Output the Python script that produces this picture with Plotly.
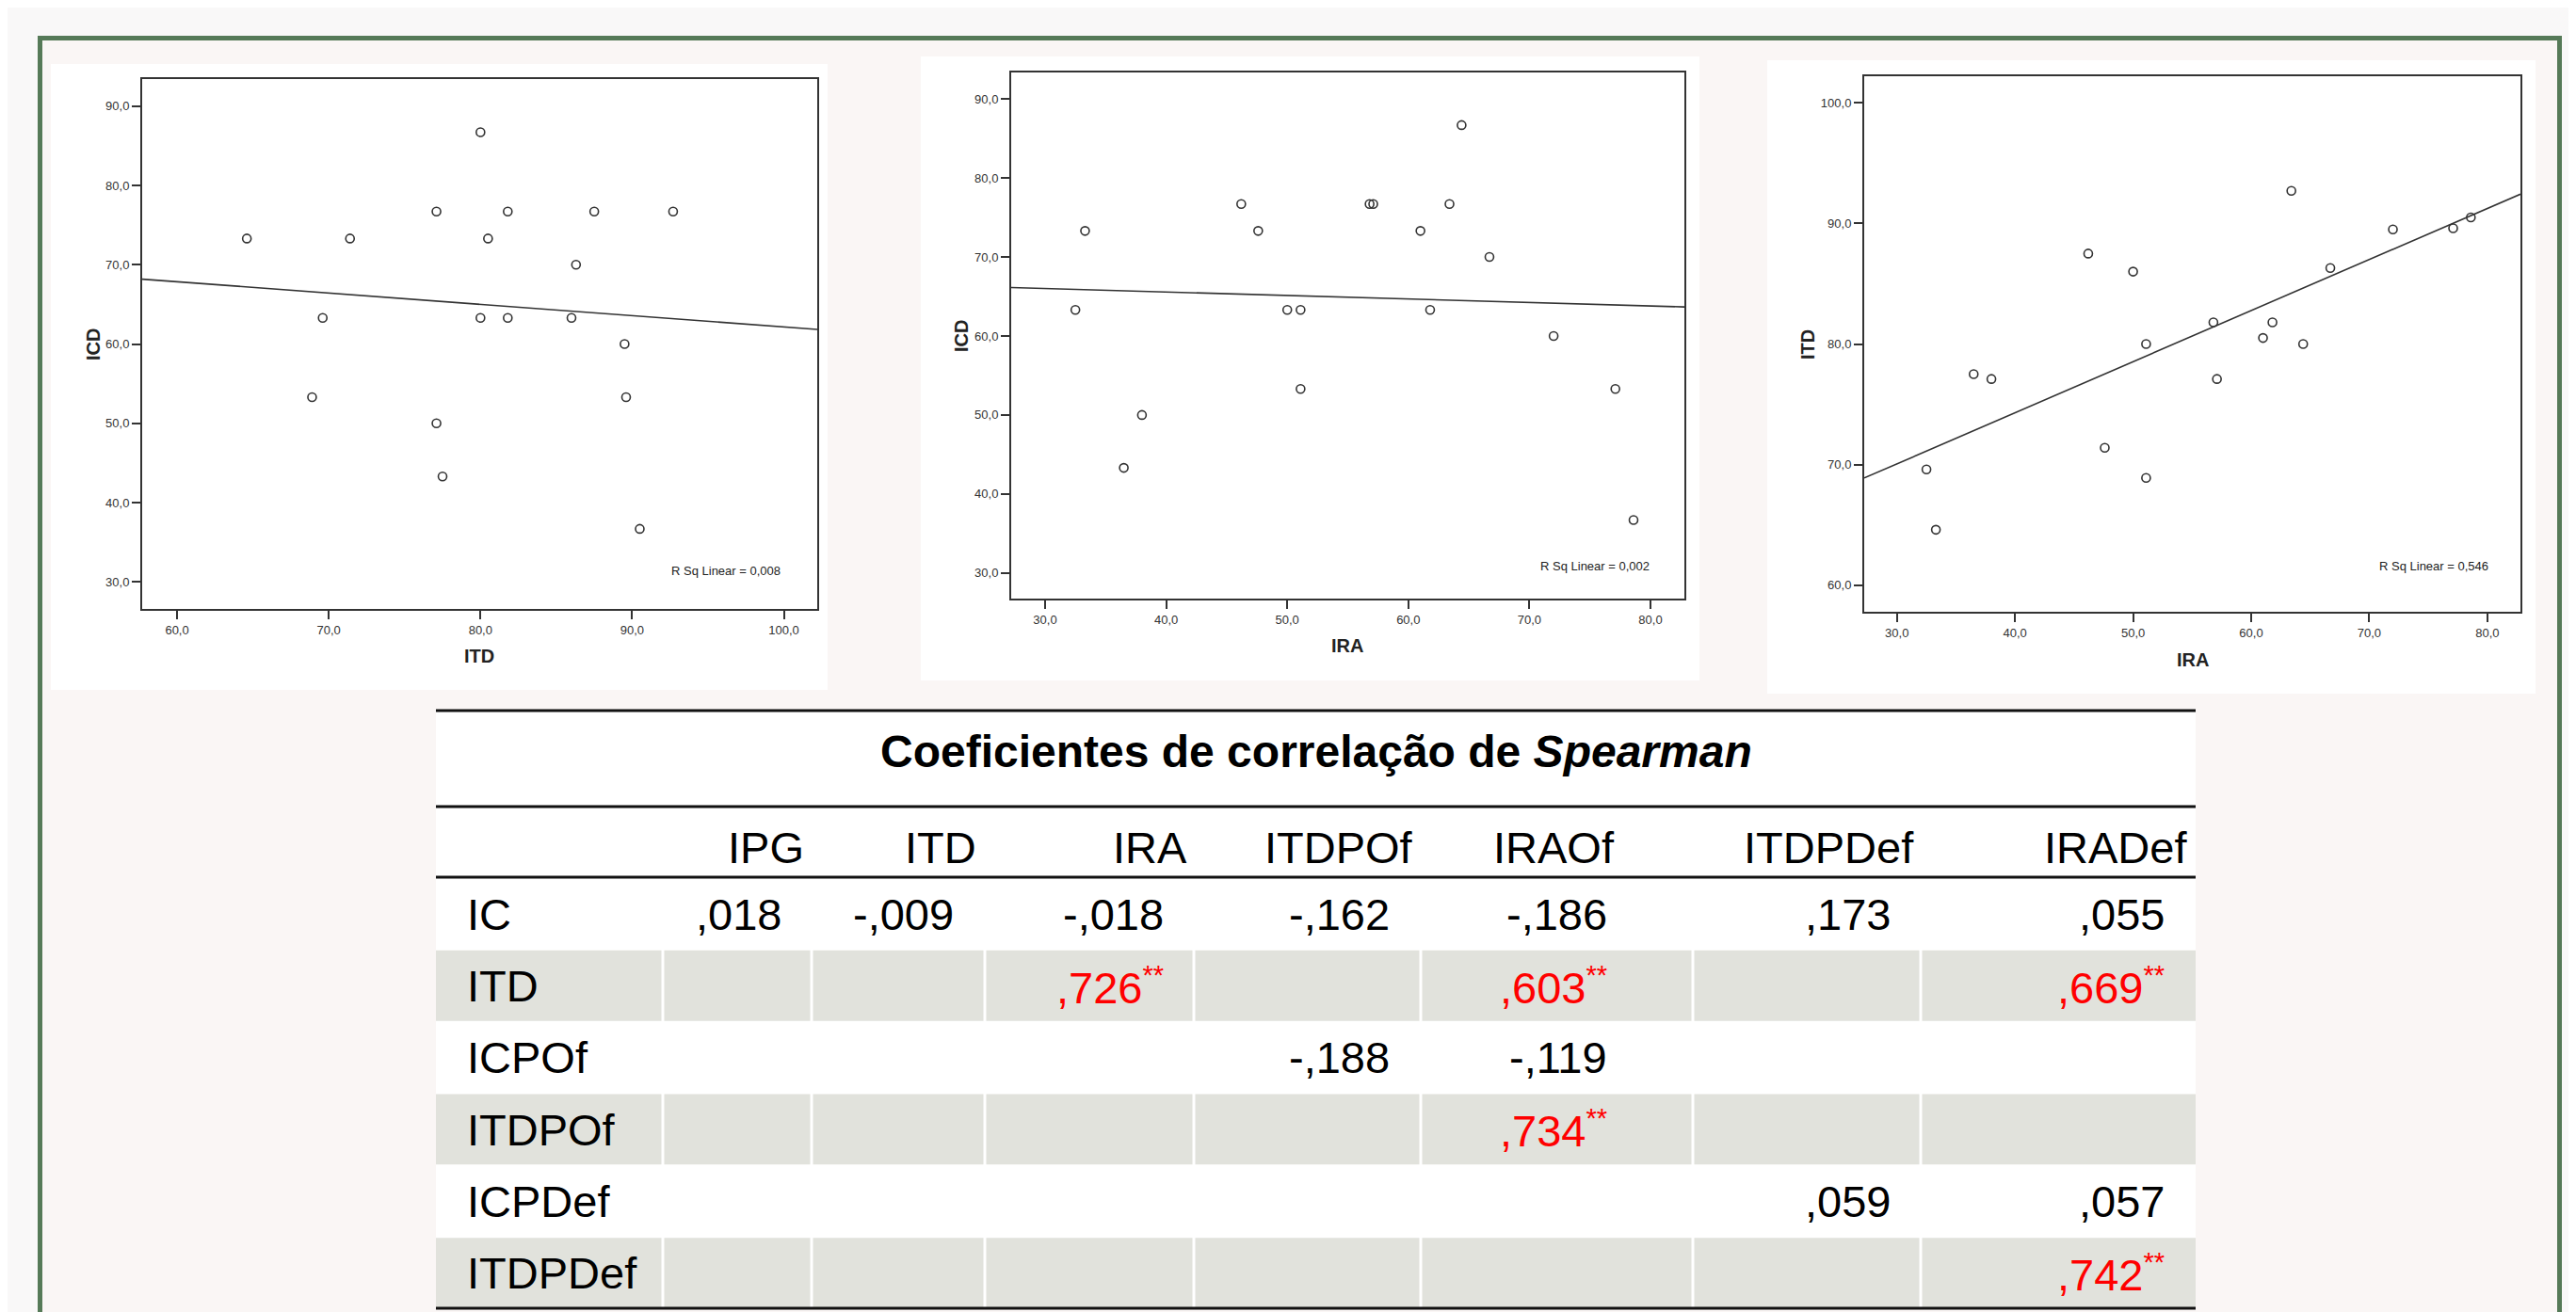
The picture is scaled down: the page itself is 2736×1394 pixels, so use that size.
import numpy as np
import plotly.graph_objects as go

# ---------------- data ----------------
IRA = [32.5, 33.3, 36.5, 38.0, 46.2, 47.6, 50.0, 51.1, 51.1, 56.8, 57.1, 61.0, 61.8, 63.4, 64.4, 66.7, 72.0, 77.1, 78.6]
ICD = [63.3, 73.3, 43.3, 50.0, 76.7, 73.3, 63.3, 63.3, 53.3, 76.7, 76.7, 73.3, 63.3, 76.7, 86.7, 70.0, 60.0, 53.3, 36.7]
ITD = [69.6, 64.6, 77.5, 77.1, 87.5, 71.4, 86.0, 80.0, 68.9, 81.8, 77.1, 80.5, 81.8, 92.7, 80.0, 86.3, 89.5, 89.6, 90.5]

RSQ_LABELS = ["R Sq Linear = 0,008", "R Sq Linear = 0,002", "R Sq Linear = 0,546"]

TABLE_TITLE = "Coeficientes de correlação de <i>Spearman</i>"
COL_LABELS = ["IPG", "ITD", "IRA", "ITDPOf", "IRAOf", "ITDPDef", "IRADef"]
ROW_LABELS = ["IC", "ITD", "ICPOf", "ITDPOf", "ICPDef", "ITDPDef"]
VALUES = [
    [0.018, -0.009, -0.018, -0.162, -0.186, 0.173, 0.055],
    [None, None, 0.726, None, 0.603, None, 0.669],
    [None, None, None, -0.188, -0.119, None, None],
    [None, None, None, None, 0.734, None, None],
    [None, None, None, None, None, 0.059, 0.057],
    [None, None, None, None, None, None, 0.742],
]
SIGNIF = [
    [0, 0, 0, 0, 0, 0, 0],
    [0, 0, 1, 0, 1, 0, 1],
    [0, 0, 0, 0, 0, 0, 0],
    [0, 0, 0, 0, 1, 0, 0],
    [0, 0, 0, 0, 0, 0, 0],
    [0, 0, 0, 0, 0, 0, 1],
]

# ---------------- layout helpers ----------------
W, H = 2736, 1394
FONT = "Liberation Sans, Arial, sans-serif"


def px(x):
    return x / W


def py(y):
    return 1 - y / H


fig = go.Figure()
shapes = []
annotations = []

# outer frame
shapes.append(dict(type="rect", xref="paper", yref="paper", x0=px(34), x1=px(2711), y0=py(1400), y1=py(32),
                   fillcolor="#faf6f5", line=dict(width=0), layer="below"))
shapes.append(dict(type="path", xref="paper", yref="paper",
                   path=f"M {px(34.5)} {py(1400)} L {px(34.5)} {py(32.5)} L {px(2710.5)} {py(32.5)} L {px(2710.5)} {py(1400)}",
                   line=dict(color="#567a58", width=5), layer="below"))

panels = [
    dict(x=ITD, y=ICD, xt="ITD", yt="ICD", panel=(46, 871, 60, 725), dom=(143, 860, 76, 639),
         xr=[57.7, 102.2], yr=[26.6, 93.4], rsq=(99.9, 31.4), xtpos=(501, 689), ytpos=(91, 358)),
    dict(x=IRA, y=ICD, xt="IRA", yt="ICD", panel=(970, 1797, 52, 715), dom=(1066, 1781, 69, 628),
         xr=[27.2, 82.8], yr=[26.75, 93.36], rsq=(80.1, 30.9), xtpos=(1423, 678), ytpos=(1013, 349)),
    dict(x=IRA, y=ITD, xt="IRA", yt="ITD", panel=(1869, 2685, 56, 729), dom=(1972, 2669, 73, 642),
         xr=[27.23, 82.8], yr=[57.8, 102.2], rsq=(80.26, 61.6), xtpos=(2321, 693), ytpos=(1912, 358)),
]

for i, p in enumerate(panels):
    n = "" if i == 0 else str(i + 1)
    xa, ya = "x" + n, "y" + n
    # white panel
    x0, x1, y0, y1 = p["panel"]
    shapes.append(dict(type="rect", xref="paper", yref="paper", x0=px(x0), x1=px(x1), y0=py(y1), y1=py(y0),
                       fillcolor="white", line=dict(width=0), layer="below"))
    dx0, dx1, dy0, dy1 = p["dom"]
    axis_common = dict(showgrid=False, zeroline=False, showline=True, mirror=True, linecolor="#333333",
                       linewidth=2, ticks="outside", ticklen=9, tickwidth=2, tickcolor="#333333",
                       tickformat=".1f", dtick=10, tick0=0,
                       tickfont=dict(family=FONT, size=13, color="#333333"))
    fig.update_layout(**{
        ("xaxis" + n): dict(domain=[px(dx0), px(dx1)], range=p["xr"], anchor=ya, **axis_common),
        ("yaxis" + n): dict(domain=[py(dy1), py(dy0)], range=p["yr"], anchor=xa, **axis_common),
    })
    # regression line across the axis range
    slope, icpt = np.polyfit(p["x"], p["y"], 1)
    xs = np.array(p["xr"])
    fig.add_trace(go.Scatter(x=xs, y=slope * xs + icpt, mode="lines", xaxis=xa, yaxis=ya,
                             line=dict(color="#333333", width=1.6), hoverinfo="skip", showlegend=False))
    fig.add_trace(go.Scatter(x=p["x"], y=p["y"], mode="markers", xaxis=xa, yaxis=ya, showlegend=False,
                             marker=dict(symbol="circle-open", size=9, color="#333333", line=dict(width=1.6))))
    annotations.append(dict(text=RSQ_LABELS[i], xref=xa, yref=ya, x=p["rsq"][0], y=p["rsq"][1],
                            xanchor="right", yanchor="middle", showarrow=False,
                            font=dict(family=FONT, size=13, color="#222222")))
    annotations.append(dict(text=f"<b>{p['xt']}</b>", xref="paper", yref="paper", x=px(p["xtpos"][0]),
                            y=py(p["xtpos"][1]), xanchor="center", yanchor="middle", showarrow=False,
                            font=dict(family=FONT, size=20, color="#222222")))
    annotations.append(dict(text=f"<b>{p['yt']}</b>", xref="paper", yref="paper", x=px(p["ytpos"][0]),
                            y=py(p["ytpos"][1]), xanchor="center", yanchor="middle", showarrow=False,
                            textangle=-90, font=dict(family=FONT, size=20, color="#222222")))

# ---------------- table ----------------
TX0, TX1 = 455, 2324
T_TOP, T_TITLE_BOT, T_HEAD_BOT, T_BOT = 747, 849, 924, 1382
COL_EDGES = [455, 696, 854, 1038, 1260, 1501, 1790, 2032, 2324]
HEAD_RIGHT = [847.6, 1031, 1255, 1495, 1709, 2027, 2317]
VAL_RIGHT = [823.5, 1007, 1229.5, 1470.5, 1701, 2001.5, 2292.6]
ROW_H = (T_BOT - T_HEAD_BOT) / len(ROW_LABELS)

shapes.append(dict(type="rect", xref="paper", yref="paper", x0=px(TX0), x1=px(TX1), y0=py(T_BOT), y1=py(T_TOP),
                   fillcolor="white", line=dict(width=0), layer="below"))
for r in range(len(ROW_LABELS)):
    if r % 2 == 1:
        top = T_HEAD_BOT + r * ROW_H
        for c in range(len(COL_EDGES) - 1):
            l = COL_EDGES[c] + (1.5 if c > 0 else 0)
            rr = COL_EDGES[c + 1] - (1.5 if c < len(COL_EDGES) - 2 else 0)
            shapes.append(dict(type="rect", xref="paper", yref="paper", x0=px(l), x1=px(rr),
                               y0=py(top + ROW_H), y1=py(top + 1.5), fillcolor="#e1e2dc",
                               line=dict(width=0), layer="below"))
for yl in [T_TOP, T_TITLE_BOT, T_HEAD_BOT, T_BOT]:
    shapes.append(dict(type="line", xref="paper", yref="paper", x0=px(TX0), x1=px(TX1), y0=py(yl), y1=py(yl),
                       line=dict(color="#111111", width=3)))

annotations.append(dict(text=f"<b>{TABLE_TITLE}</b>", xref="paper", yref="paper", x=px((TX0 + TX1) / 2),
                        y=py(791), xanchor="center", yanchor="middle", showarrow=False,
                        font=dict(family=FONT, size=48, color="black")))
for c, lab in enumerate(COL_LABELS):
    annotations.append(dict(text=lab, xref="paper", yref="paper", x=px(HEAD_RIGHT[c]), y=py(892),
                            xanchor="right", yanchor="middle", showarrow=False,
                            font=dict(family=FONT, size=47, color="black")))


def fmt(v):
    s = f"{abs(v):.3f}".lstrip("0").replace(".", ",")
    return ("-" if v < 0 else "") + s


for r, lab in enumerate(ROW_LABELS):
    yc = T_HEAD_BOT + r * ROW_H + ROW_H / 2 + 1
    annotations.append(dict(text=lab, xref="paper", yref="paper", x=px(486), y=py(yc),
                            xanchor="left", yanchor="middle", showarrow=False,
                            font=dict(family=FONT, size=47, color="black")))
    for c, v in enumerate(VALUES[r]):
        if v is None:
            continue
        sig = SIGNIF[r][c]
        txt = fmt(v) + ("<sup><span style='font-size:29px'>**</span></sup>" if sig else "")
        annotations.append(dict(text=txt, xref="paper", yref="paper", x=px(VAL_RIGHT[c]), y=py(yc),
                                xanchor="right", yanchor="middle", showarrow=False,
                                font=dict(family=FONT, size=47, color="#ff0000" if sig else "black")))

fig.update_layout(
    width=W, height=H, margin=dict(l=0, r=0, t=0, b=0),
    paper_bgcolor="#f9f8f8", plot_bgcolor="#f0f0f0",
    separators=",.", showlegend=False, hovermode=False,
    shapes=shapes, annotations=annotations,
)

fig.write_html("out.html", config={"displayModeBar": False})
